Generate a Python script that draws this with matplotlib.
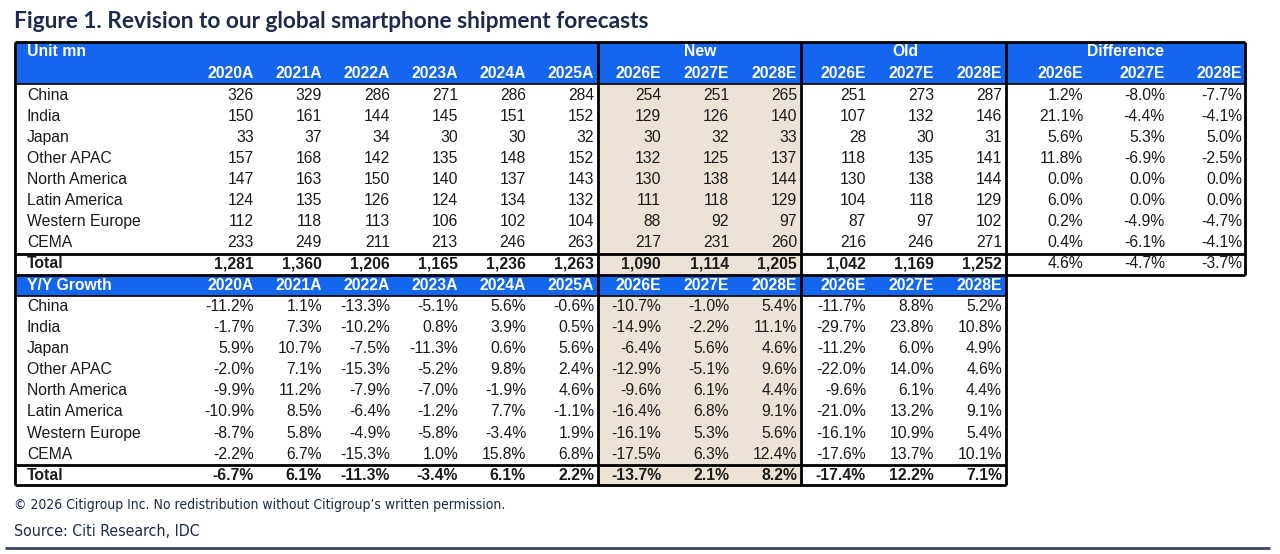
import matplotlib.pyplot as plt
from matplotlib.patches import Rectangle

# data
regions = ["China", "India", "Japan", "Other APAC", "North America",
           "Latin America", "Western Europe", "CEMA"]
hist_years = ["2020A", "2021A", "2022A", "2023A", "2024A", "2025A"]
fcst_years = ["2026E", "2027E", "2028E"]

units_hist = [
    [326, 329, 286, 271, 286, 284],
    [150, 161, 144, 145, 151, 152],
    [33, 37, 34, 30, 30, 32],
    [157, 168, 142, 135, 148, 152],
    [147, 163, 150, 140, 137, 143],
    [124, 135, 126, 124, 134, 132],
    [112, 118, 113, 106, 102, 104],
    [233, 249, 211, 213, 246, 263],
]
units_new = [[254, 251, 265], [129, 126, 140], [30, 32, 33], [132, 125, 137],
             [130, 138, 144], [111, 118, 129], [88, 92, 97], [217, 231, 260]]
units_old = [[251, 273, 287], [107, 132, 146], [28, 30, 31], [118, 135, 141],
             [130, 138, 144], [104, 118, 129], [87, 97, 102], [216, 246, 271]]
diff_pct = [[1.2, -8.0, -7.7], [21.1, -4.4, -4.1], [5.6, 5.3, 5.0],
            [11.8, -6.9, -2.5], [0.0, 0.0, 0.0], [6.0, 0.0, 0.0],
            [0.2, -4.9, -4.7], [0.4, -6.1, -4.1]]
total_hist = [1281, 1360, 1206, 1165, 1236, 1263]
total_new = [1090, 1114, 1205]
total_old = [1042, 1169, 1252]
total_diff = [4.6, -4.7, -3.7]

yoy_hist = [
    [-11.2, 1.1, -13.3, -5.1, 5.6, -0.6],
    [-1.7, 7.3, -10.2, 0.8, 3.9, 0.5],
    [5.9, 10.7, -7.5, -11.3, 0.6, 5.6],
    [-2.0, 7.1, -15.3, -5.2, 9.8, 2.4],
    [-9.9, 11.2, -7.9, -7.0, -1.9, 4.6],
    [-10.9, 8.5, -6.4, -1.2, 7.7, -1.1],
    [-8.7, 5.8, -4.9, -5.8, -3.4, 1.9],
    [-2.2, 6.7, -15.3, 1.0, 15.8, 6.8],
]
yoy_new = [[-10.7, -1.0, 5.4], [-14.9, -2.2, 11.1], [-6.4, 5.6, 4.6],
           [-12.9, -5.1, 9.6], [-9.6, 6.1, 4.4], [-16.4, 6.8, 9.1],
           [-16.1, 5.3, 5.6], [-17.5, 6.3, 12.4]]
yoy_old = [[-11.7, 8.8, 5.2], [-29.7, 23.8, 10.8], [-11.2, 6.0, 4.9],
           [-22.0, 14.0, 4.6], [-9.6, 6.1, 4.4], [-21.0, 13.2, 9.1],
           [-16.1, 10.9, 5.4], [-17.6, 13.7, 10.1]]
yoy_total_hist = [-6.7, 6.1, -11.3, -3.4, 6.1, 2.2]
yoy_total_new = [-13.7, 2.1, 8.2]
yoy_total_old = [-17.4, 12.2, 7.1]

# layout (pixels)
BLUE = "#1466ee"
BEIGE = "#ece3d6"
NAVY = "#1d2a4c"
TXT = "#1a1a1a"
FONT = ["Liberation Sans", "DejaVu Sans"]
FS = 11.3

left, x_lab = 15, 27
col_right = [254, 322, 390, 458, 526, 594,
             661, 729, 797, 866, 934, 1002,
             1083, 1165, 1242]
v_new, v_old, v_diff, right = 598, 801, 1006, 1245
row_h = 21.1

fig = plt.figure(figsize=(12.8, 5.54), dpi=100)
ax = fig.add_axes([0, 0, 1, 1])
ax.set_xlim(0, 1280)
ax.set_ylim(554, 0)
ax.axis("off")


def txt(x, y, s, ha="right", bold=False, color=TXT, size=FS):
    ax.text(x, y, s, ha=ha, va="center", fontsize=size, color=color,
            family=FONT, fontweight="bold" if bold else "normal")


def hline(y, x0, x1, lw=2.0):
    ax.plot([x0, x1], [y, y], color="black", lw=lw, solid_capstyle="butt")


def vline(x, y0, y1, lw=2.0):
    ax.plot([x, x], [y0, y1], color="black", lw=lw, solid_capstyle="butt")


ax.text(14, 21, "Figure 1. Revision to our global smartphone shipment forecasts",
        ha="left", va="center", fontsize=16.3, fontweight="bold", color=NAVY,
        family=["Lato", "DejaVu Sans"])

# ---- upper table: units ----
top, hdr_end = 42, 84
tot_top, tot_bot = 253.5, 275
ax.add_patch(Rectangle((left, top), right - left, hdr_end - top, color=BLUE, lw=0))
ax.add_patch(Rectangle((v_new, hdr_end), v_old - v_new, tot_bot - hdr_end,
                       color=BEIGE, lw=0))
txt(x_lab, 52, "Unit mn", ha="left", bold=True, color="white")
for name, xc in [("New", 700), ("Old", 905), ("Difference", 1125)]:
    txt(xc, 52, name, ha="center", bold=True, color="white")
for x, y in zip(col_right, hist_years + fcst_years * 3):
    txt(x, 73, y, bold=True, color="white")

for i, reg in enumerate(regions):
    y = 95 + i * row_h
    txt(x_lab, y, reg, ha="left")
    vals = [str(v) for v in units_hist[i] + units_new[i] + units_old[i]]
    vals += [f"{v:.1f}%" for v in diff_pct[i]]
    for x, s in zip(col_right, vals):
        txt(x, y, s)

y = 264
txt(x_lab, y, "Total", ha="left", bold=True)
vals = [f"{v:,}" for v in total_hist + total_new + total_old]
for x, s in zip(col_right, vals):
    txt(x, y, s, bold=True)
for x, v in zip(col_right[12:], total_diff):
    txt(x, y, f"{v:.1f}%")

# ---- lower table: y/y growth ----
g_top, g_hdr_end = 275, 296
g_tot_top, g_bot = 464.5, 485
ax.add_patch(Rectangle((left, g_top), v_diff - left, g_hdr_end - g_top,
                       color=BLUE, lw=0))
ax.add_patch(Rectangle((v_new, g_hdr_end), v_old - v_new, g_bot - g_hdr_end,
                       color=BEIGE, lw=0))
txt(x_lab, 285.5, "Y/Y Growth", ha="left", bold=True, color="white")
for x, y in zip(col_right[:12], hist_years + fcst_years * 2):
    txt(x, 285.5, y, bold=True, color="white")

for i, reg in enumerate(regions):
    y = 306.5 + i * row_h
    txt(x_lab, y, reg, ha="left")
    for x, v in zip(col_right, yoy_hist[i] + yoy_new[i] + yoy_old[i]):
        txt(x, y, f"{v:.1f}%")

y = 475
txt(x_lab, y, "Total", ha="left", bold=True)
for x, v in zip(col_right, yoy_total_hist + yoy_total_new + yoy_total_old):
    txt(x, y, f"{v:.1f}%", bold=True)

# borders
hline(top, left, right)
hline(hdr_end, left, right, lw=1.2)
hline(tot_top, left, right)
hline(tot_bot, left, right)
vline(left, top, g_bot)
vline(right, top, tot_bot)
for x in (v_new, v_old):
    vline(x, top, g_bot)
vline(v_diff, top, g_bot)
hline(g_hdr_end, left, v_diff, lw=1.2)
hline(g_tot_top, left, v_diff)
hline(g_bot, left, v_diff)

# footer
narrow = ["Liberation Sans Narrow", "DejaVu Sans"]
ax.text(14, 505, "\u00a9 2026 Citigroup Inc. No redistribution without Citigroup\u2019s written permission.",
        ha="left", va="center", fontsize=10, color=NAVY, family=narrow,
        fontstretch="condensed")
ax.text(14, 531, "Source: Citi Research, IDC", ha="left", va="center",
        fontsize=11.4, color=NAVY, family=narrow, fontstretch="condensed")
ax.plot([5, 1270], [548, 548], color="#3b4262", lw=2, solid_capstyle="butt")

fig.savefig("out.png", dpi=100)
